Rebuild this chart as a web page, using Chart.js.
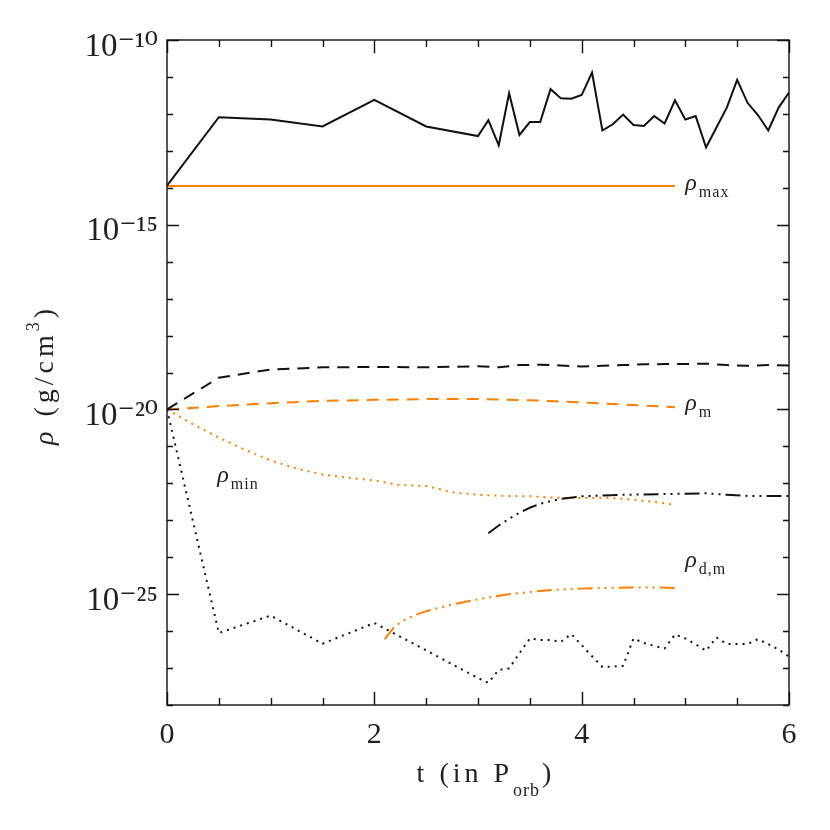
<!DOCTYPE html>
<html lang="en">
<head>
<meta charset="utf-8" />
<title>rho vs t</title>
<script src="https://cdn.jsdelivr.net/npm/chart.js@4.4.0/dist/chart.umd.min.js"></script>
<style>
  html, body { margin: 0; padding: 0; background: #fff; }
</style>
</head>
<body>
<canvas id="myChart" width="830" height="830"></canvas>

<script>
// all densities are log10(rho) in g/cm^3, time in P_orb
var tSim = [0, 0.5, 1, 1.5, 2, 2.5, 3,
  3.1, 3.2, 3.3, 3.4, 3.5, 3.6, 3.7, 3.8, 3.9, 4.0,
  4.1, 4.2, 4.3, 4.4, 4.5, 4.6, 4.7, 4.8, 4.9, 5.0,
  5.1, 5.2, 5.3, 5.4, 5.5, 5.6, 5.7, 5.8, 5.9, 6.0];
var rhoMaxSim = [-13.94, -12.09, -12.15, -12.34, -11.62, -12.34, -12.60,
  -12.17, -12.85, -11.44, -12.57, -12.22, -12.22, -11.33, -11.58, -11.59, -11.49,
  -10.88, -12.45, -12.28, -12.02, -12.30, -12.33, -12.06, -12.26, -11.63, -12.15,
  -12.06, -12.91, -12.37, -11.83, -11.08, -11.70, -12.03, -12.45, -11.83, -11.42];
var rhoMinSim = [-20.0, -26.05, -25.58, -26.34, -25.78, -26.52, -27.27,
  -27.40, -27.05, -27.01, -26.60, -26.20, -26.24, -26.24, -26.29, -26.08, -26.38,
  -26.68, -26.97, -26.96, -26.94, -26.20, -26.32, -26.40, -26.47, -26.09, -26.20,
  -26.36, -26.53, -26.17, -26.35, -26.35, -26.35, -26.22, -26.35, -26.50, -26.69];

var tMeanSim = [0, 0.5, 1, 1.5, 2, 2.5, 3, 3.2, 3.4, 3.6, 3.8, 4.0, 4.2, 4.4,
  4.6, 4.8, 5.0, 5.2, 5.4, 5.6, 5.8, 6.0];
var rhoMeanSim = [-20.0, -19.14, -18.92, -18.86, -18.85, -18.86, -18.83, -18.86, -18.80,
  -18.79, -18.81, -18.84, -18.82, -18.80, -18.78, -18.77, -18.77, -18.76, -18.80,
  -18.82, -18.80, -18.81];

var tDiskSim = [3.1, 3.2, 3.3, 3.4, 3.5, 3.6, 3.8, 4.0, 4.2, 4.4, 4.6, 4.8, 5.0,
  5.2, 5.4, 5.6, 5.8, 6.0];
var rhoDiskSim = [-23.35, -23.14, -22.96, -22.80, -22.66, -22.55, -22.42, -22.35,
  -22.33, -22.31, -22.30, -22.29, -22.28, -22.27, -22.31, -22.34, -22.34, -22.34];

// model curves (orange)
var tMaxMod = [0, 4.9];
var rhoMaxMod = [-13.95, -13.95];

var tMeanMod = [0, 0.5, 1, 1.5, 2, 2.5, 3, 3.5, 4, 4.5, 4.9];
var rhoMeanMod = [-20.0, -19.91, -19.83, -19.77, -19.74, -19.72, -19.72, -19.75,
  -19.81, -19.88, -19.94];

var tMinMod = [0, 0.25, 0.5, 0.75, 1, 1.25, 1.5, 1.75, 2, 2.25, 2.5, 2.75, 3,
  3.25, 3.5, 3.75, 4, 4.25, 4.5, 4.75, 4.9];
var rhoMinMod = [-20.0, -20.40, -20.76, -21.09, -21.38, -21.60, -21.76, -21.85,
  -21.92, -22.05, -22.07, -22.24, -22.31, -22.34, -22.35, -22.39, -22.40, -22.39,
  -22.44, -22.52, -22.58];

var tDiskMod = [2.1, 2.2, 2.3, 2.4, 2.5, 2.75, 3, 3.25, 3.5, 3.75, 4, 4.25, 4.5,
  4.75, 4.9];
var rhoDiskMod = [-26.22, -25.86, -25.68, -25.56, -25.46, -25.28, -25.14, -25.02,
  -24.94, -24.88, -24.85, -24.83, -24.82, -24.82, -24.83];

// axis ticks
var xTickStep = 0.5;
var xLabelEvery = 2;
var yDecades = [-28, -27, -26, -25, -24, -23, -22, -21, -20, -19, -18, -17, -16,
  -15, -14, -13, -12, -11, -10];
var yLabelEvery = 5;

var BLACK = '#111';
var ORANGE = '#ff7f00';
var FONT = "'Liberation Serif', 'DejaVu Serif', serif";

function pts(ts, logs) {
    return ts.map(function (t, i) { return { x: t, y: Math.pow(10, logs[i]) }; });
}

function sup(n) {
    var map = { '-': '\u207B', '0': '\u2070', '1': '\u00B9', '2': '\u00B2', '3': '\u00B3',
        '4': '\u2074', '5': '\u2075', '6': '\u2076', '7': '\u2077', '8': '\u2078', '9': '\u2079' };
    return String(n).split('').map(function (c) { return map[c]; }).join('');
}

function line(color, dash) {
    return {
        borderColor: color, borderWidth: 2, borderDash: dash || [],
        pointRadius: 0, tension: 0, fill: false, borderCapStyle: 'butt'
    };
}

var dashLong = [12, 8];
var dotted = [2, 5];
var dashDots = [15, 5, 2, 5, 2, 5, 2, 5];

var datasets = [
    Object.assign({ data: pts(tSim, rhoMaxSim) }, line(BLACK)),
    Object.assign({ data: pts(tSim, rhoMinSim) }, line(BLACK, dotted)),
    Object.assign({ data: pts(tMeanSim, rhoMeanSim) }, line(BLACK, dashLong)),
    Object.assign({ data: pts(tDiskSim, rhoDiskSim) }, line(BLACK, dashDots)),
    Object.assign({ data: pts(tMaxMod, rhoMaxMod) }, line(ORANGE)),
    Object.assign({ data: pts(tMeanMod, rhoMeanMod) }, line(ORANGE, dashLong)),
    Object.assign({ data: pts(tMinMod, rhoMinMod) }, line(ORANGE, dotted)),
    Object.assign({ data: pts(tDiskMod, rhoDiskMod) }, line(ORANGE, dashDots))
];

function spacing(ctx, px) {
    if ('letterSpacing' in ctx) ctx.letterSpacing = px + 'px';
}

// frame, inward ticks on all sides, titles and curve labels
var decorations = {
    id: 'decorations',
    afterDraw: function (chart) {
        var ctx = chart.ctx, a = chart.chartArea;
        var xs = chart.scales.x, ys = chart.scales.y;
        ctx.save();
        ctx.strokeStyle = BLACK;
        ctx.lineWidth = 1.4;
        ctx.strokeRect(a.left, a.top, a.right - a.left, a.bottom - a.top);

        ctx.beginPath();
        xs.ticks.forEach(function (tk) {
            var px = Math.round(xs.getPixelForValue(tk.value)) + 0.5;
            var len = Math.abs(tk.value % xLabelEvery) < 1e-9 ? 13 : 7;
            ctx.moveTo(px, a.bottom); ctx.lineTo(px, a.bottom - len);
            ctx.moveTo(px, a.top); ctx.lineTo(px, a.top + len);
        });
        ys.ticks.forEach(function (tk) {
            var e = Math.round(Math.log10(tk.value));
            var py = Math.round(ys.getPixelForValue(tk.value)) + 0.5;
            var len = e % yLabelEvery === 0 ? 12 : 6;
            ctx.moveTo(a.left, py); ctx.lineTo(a.left + len, py);
            ctx.moveTo(a.right, py); ctx.lineTo(a.right - len, py);
        });
        ctx.stroke();

        ctx.fillStyle = '#222';
        ctx.textBaseline = 'alphabetic';

        // x title: t (in P_orb)
        var big = '28px ' + FONT, small = '18px ' + FONT;
        spacing(ctx, 4);
        ctx.font = big;
        var w1 = ctx.measureText('t (in P').width;
        var w3 = ctx.measureText(')').width;
        spacing(ctx, 1);
        ctx.font = small;
        var w2 = ctx.measureText('orb').width + 2;
        var x0 = 486 - (w1 + w2 + w3) / 2, base = 782;
        spacing(ctx, 4);
        ctx.font = big; ctx.fillText('t (in P', x0, base);
        spacing(ctx, 1);
        ctx.font = small; ctx.fillText('orb', x0 + w1, base + 14);
        spacing(ctx, 4);
        ctx.font = big; ctx.fillText(')', x0 + w1 + w2, base);

        // y title: rho (g/cm^3), rotated
        ctx.save();
        ctx.translate(53, 375);
        ctx.rotate(-Math.PI / 2);
        var parts = [
            { s: '\u03C1', f: 'italic 28px ' + FONT, dy: 0 },
            { s: ' (g/cm', f: big, dy: 0 },
            { s: '3', f: small, dy: -14 },
            { s: ')', f: big, dy: 0 }
        ];
        var tot = 0;
        parts.forEach(function (p) { ctx.font = p.f; p.w = ctx.measureText(p.s).width; tot += p.w; });
        var cx = -tot / 2;
        parts.forEach(function (p) { ctx.font = p.f; ctx.fillText(p.s, cx, p.dy); cx += p.w; });
        ctx.restore();

        // curve labels, anchored in data units
        spacing(ctx, 1);
        var labels = [
            { sub: 'max', t: 5.0, lg: -14.06 },
            { sub: 'm', t: 5.0, lg: -20.02 },
            { sub: 'min', t: 0.485, lg: -21.97 },
            { sub: 'd,m', t: 5.0, lg: -24.27 }
        ];
        labels.forEach(function (l) {
            var px = xs.getPixelForValue(l.t), py = ys.getPixelForValue(Math.pow(10, l.lg));
            ctx.font = 'italic 24px ' + FONT;
            ctx.fillText('\u03C1', px, py);
            var w = ctx.measureText('\u03C1').width;
            ctx.font = '16px ' + FONT;
            ctx.fillText(l.sub, px + w + 1, py + 7);
        });
        ctx.restore();
    }
};

var myChart = new Chart(document.getElementById('myChart').getContext('2d'), {
    type: 'line',
    data: { datasets: datasets },
    options: {
        responsive: false,
        animation: false,
        devicePixelRatio: 1,
        layout: { padding: { top: 40, right: 41, left: 0, bottom: 0 } },
        plugins: { legend: { display: false }, tooltip: { enabled: false } },
        scales: {
            x: {
                type: 'linear', min: 0, max: 6,
                grid: { display: false, drawTicks: false },
                border: { display: false },
                ticks: {
                    stepSize: xTickStep, autoSkip: false, maxRotation: 0, padding: 12,
                    color: '#222', font: { family: FONT, size: 30 },
                    callback: function (v) {
                        return Math.abs(v % xLabelEvery) < 1e-9 ? String(v) : '';
                    }
                },
                afterFit: function (s) { s.height = 125; }
            },
            y: {
                type: 'logarithmic', min: 1e-28, max: 1e-10,
                grid: { display: false, drawTicks: false },
                border: { display: false },
                afterBuildTicks: function (s) {
                    s.ticks = yDecades.map(function (e) { return { value: Math.pow(10, e) }; });
                },
                ticks: {
                    autoSkip: false, padding: 9, labelOffset: 7,
                    color: '#222', font: { family: FONT, size: 33 },
                    callback: function (v) {
                        var e = Math.round(Math.log10(v));
                        return e % yLabelEvery === 0 ? '10' + sup(e) : '';
                    }
                },
                afterFit: function (s) { s.width = 167; }
            }
        }
    },
    plugins: [decorations]
});
</script>
</body>
</html>
